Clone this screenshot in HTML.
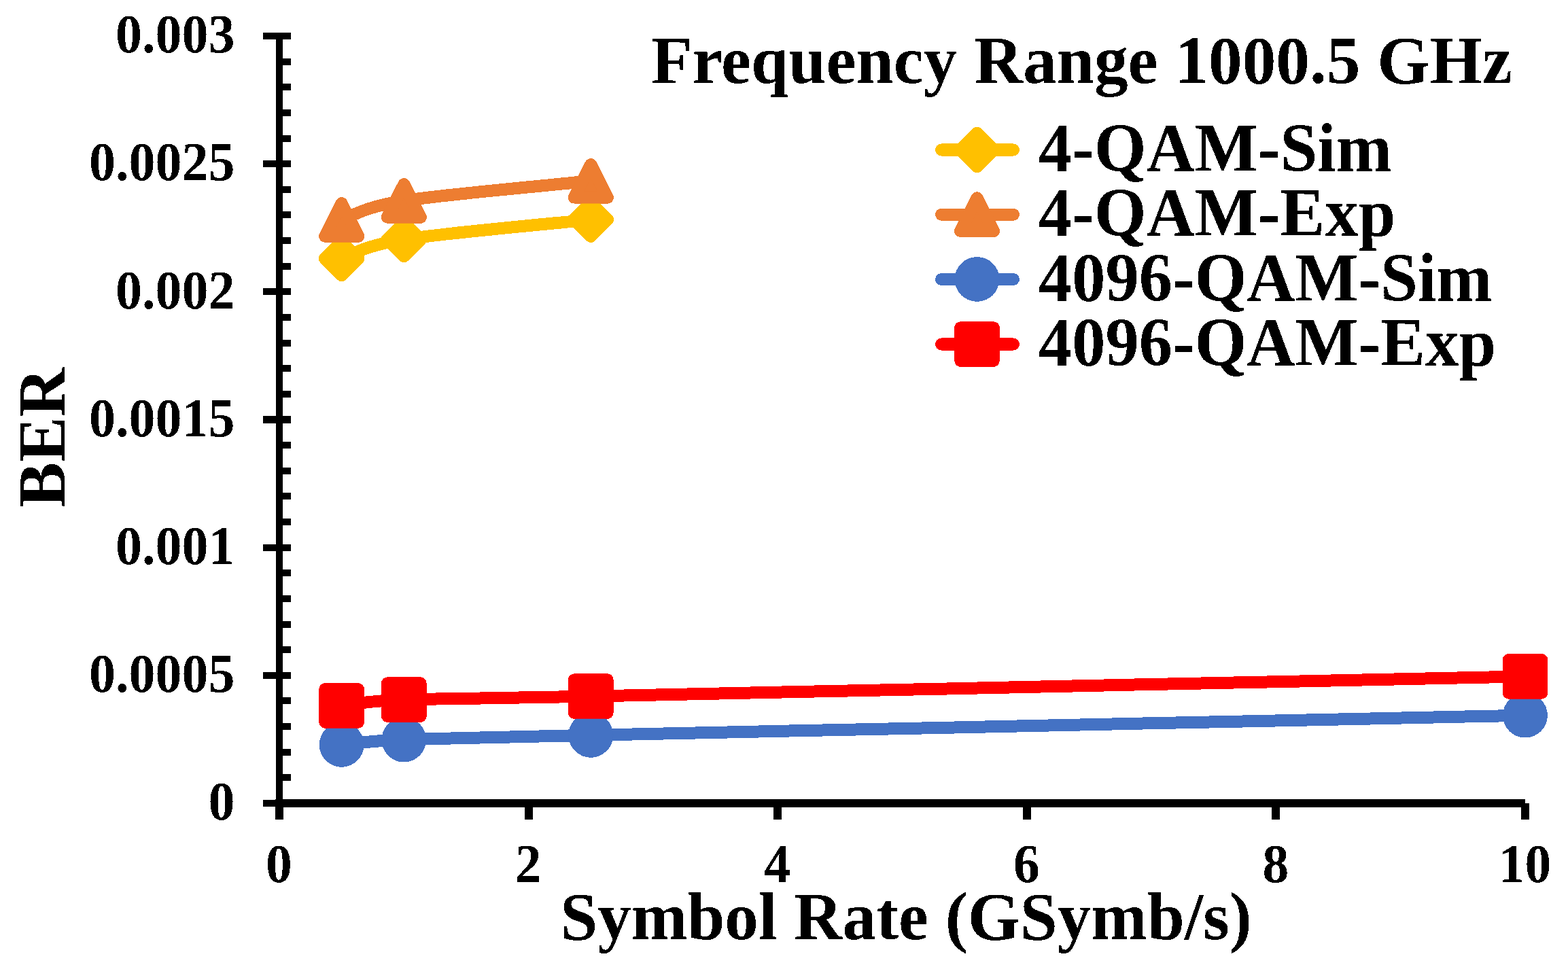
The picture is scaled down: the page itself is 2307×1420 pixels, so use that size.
<!DOCTYPE html><html><head><meta charset="utf-8"><title>BER vs Symbol Rate</title>
<style>html,body{margin:0;padding:0;background:#fff;}svg{display:block;}text{font-family:'Liberation Serif','Times New Roman',serif;font-weight:bold;fill:#000;}</style></head><body>
<svg width="2307" height="1420" viewBox="0 0 2307 1420">
<rect width="2307" height="1420" fill="#fff"/>
<defs><filter id="bin" x="0" y="0" width="2307" height="1420" filterUnits="userSpaceOnUse" color-interpolation-filters="sRGB"><feComponentTransfer><feFuncA type="discrete" tableValues="0 1"/></feComponentTransfer></filter></defs>
<g filter="url(#bin)">
<rect x="406" y="48" width="10" height="1140" fill="#000"/>
<rect x="387" y="1177.00" width="41" height="10" fill="#000"/>
<rect x="387" y="988.83" width="41" height="10" fill="#000"/>
<rect x="387" y="800.67" width="41" height="10" fill="#000"/>
<rect x="387" y="612.50" width="41" height="10" fill="#000"/>
<rect x="387" y="424.33" width="41" height="10" fill="#000"/>
<rect x="387" y="236.17" width="41" height="10" fill="#000"/>
<rect x="387" y="48.00" width="41" height="10" fill="#000"/>
<rect x="411" y="1139.37" width="17" height="10" fill="#000"/>
<rect x="411" y="1101.73" width="17" height="10" fill="#000"/>
<rect x="411" y="1064.10" width="17" height="10" fill="#000"/>
<rect x="411" y="1026.47" width="17" height="10" fill="#000"/>
<rect x="411" y="951.20" width="17" height="10" fill="#000"/>
<rect x="411" y="913.57" width="17" height="10" fill="#000"/>
<rect x="411" y="875.93" width="17" height="10" fill="#000"/>
<rect x="411" y="838.30" width="17" height="10" fill="#000"/>
<rect x="411" y="763.03" width="17" height="10" fill="#000"/>
<rect x="411" y="725.40" width="17" height="10" fill="#000"/>
<rect x="411" y="687.77" width="17" height="10" fill="#000"/>
<rect x="411" y="650.13" width="17" height="10" fill="#000"/>
<rect x="411" y="574.87" width="17" height="10" fill="#000"/>
<rect x="411" y="537.23" width="17" height="10" fill="#000"/>
<rect x="411" y="499.60" width="17" height="10" fill="#000"/>
<rect x="411" y="461.97" width="17" height="10" fill="#000"/>
<rect x="411" y="386.70" width="17" height="10" fill="#000"/>
<rect x="411" y="349.07" width="17" height="10" fill="#000"/>
<rect x="411" y="311.43" width="17" height="10" fill="#000"/>
<rect x="411" y="273.80" width="17" height="10" fill="#000"/>
<rect x="411" y="198.53" width="17" height="10" fill="#000"/>
<rect x="411" y="160.90" width="17" height="10" fill="#000"/>
<rect x="411" y="123.27" width="17" height="10" fill="#000"/>
<rect x="411" y="85.63" width="17" height="10" fill="#000"/>
<rect x="405" y="1176" width="1839.00" height="12" fill="#000"/>
<rect x="405.00" y="1182" width="12" height="24" fill="#000"/>
<rect x="771.60" y="1182" width="12" height="24" fill="#000"/>
<rect x="1138.20" y="1182" width="12" height="24" fill="#000"/>
<rect x="1504.80" y="1182" width="12" height="24" fill="#000"/>
<rect x="1871.40" y="1182" width="12" height="24" fill="#000"/>
<rect x="2238.00" y="1182" width="12" height="24" fill="#000"/>
<text transform="translate(345.5,1206.30) scale(1,1.04)" font-size="78" text-anchor="end">0</text>
<text transform="translate(345.5,1018.13) scale(1,1.04)" font-size="78" text-anchor="end">0.0005</text>
<text transform="translate(345.5,829.97) scale(1,1.04)" font-size="78" text-anchor="end">0.001</text>
<text transform="translate(345.5,641.80) scale(1,1.04)" font-size="78" text-anchor="end">0.0015</text>
<text transform="translate(345.5,453.63) scale(1,1.04)" font-size="78" text-anchor="end">0.002</text>
<text transform="translate(345.5,265.47) scale(1,1.04)" font-size="78" text-anchor="end">0.0025</text>
<text transform="translate(345.5,77.30) scale(1,1.04)" font-size="78" text-anchor="end">0.003</text>
<text transform="translate(410.50,1297.6) scale(1,1.035)" font-size="77.5" text-anchor="middle">0</text>
<text transform="translate(777.10,1297.6) scale(1,1.035)" font-size="77.5" text-anchor="middle">2</text>
<text transform="translate(1143.70,1297.6) scale(1,1.035)" font-size="77.5" text-anchor="middle">4</text>
<text transform="translate(1510.30,1297.6) scale(1,1.035)" font-size="77.5" text-anchor="middle">6</text>
<text transform="translate(1876.90,1297.6) scale(1,1.035)" font-size="77.5" text-anchor="middle">8</text>
<text transform="translate(2243.50,1297.6) scale(1,1.035)" font-size="77.5" text-anchor="middle">10</text>
<text x="1333" y="1382" font-size="99" text-anchor="middle">Symbol Rate (GSymb/s)</text>
<text transform="translate(95,644) rotate(-90)" font-size="100" text-anchor="middle">BER</text>
<text x="958" y="122" font-size="99.3">Frequency Range 1000.5 GHz</text>
<path d="M502.65,380.30 C517.92,375.63 533.20,361.83 594.30,352.30 C655.40,342.77 823.42,327.97 869.25,323.10" fill="none" stroke="#FFC000" stroke-width="18" stroke-linecap="round" stroke-linejoin="round"/>
<polygon points="502.65,355.50 527.45,380.30 502.65,405.10 477.85,380.30" fill="#FFC000" stroke="#FFC000" stroke-width="18" stroke-linejoin="round"/>
<polygon points="594.30,327.50 619.10,352.30 594.30,377.10 569.50,352.30" fill="#FFC000" stroke="#FFC000" stroke-width="18" stroke-linejoin="round"/>
<polygon points="869.25,298.30 894.05,323.10 869.25,347.90 844.45,323.10" fill="#FFC000" stroke="#FFC000" stroke-width="18" stroke-linejoin="round"/>
<path d="M502.65,323.40 C517.92,318.73 533.20,304.92 594.30,295.40 C655.40,285.88 823.42,271.15 869.25,266.30" fill="none" stroke="#ED7D31" stroke-width="18" stroke-linecap="round" stroke-linejoin="round"/>
<polygon points="502.65,299.10 527.25,347.70 478.05,347.70" fill="#ED7D31" stroke="#ED7D31" stroke-width="18" stroke-linejoin="round"/>
<polygon points="594.30,271.10 618.90,319.70 569.70,319.70" fill="#ED7D31" stroke="#ED7D31" stroke-width="18" stroke-linejoin="round"/>
<polygon points="869.25,242.00 893.85,290.60 844.65,290.60" fill="#ED7D31" stroke="#ED7D31" stroke-width="18" stroke-linejoin="round"/>
<path d="M502.65,1095.80 C517.92,1094.58 533.20,1090.83 594.30,1088.50 C655.40,1086.17 594.30,1087.77 869.25,1081.80 C1144.20,1075.83 2014.88,1057.55 2244.00,1052.70" fill="none" stroke="#4472C4" stroke-width="18" stroke-linecap="round" stroke-linejoin="round"/>
<circle cx="502.65" cy="1095.80" r="32.90" fill="#4472C4"/>
<circle cx="594.30" cy="1088.50" r="32.90" fill="#4472C4"/>
<circle cx="869.25" cy="1081.80" r="32.90" fill="#4472C4"/>
<circle cx="2244.00" cy="1052.70" r="32.90" fill="#4472C4"/>
<path d="M502.65,1038.40 C517.92,1036.93 533.20,1031.92 594.30,1029.60 C655.40,1027.28 594.30,1030.20 869.25,1024.50 C1144.20,1018.80 2014.88,1000.25 2244.00,995.40" fill="none" stroke="#FF0000" stroke-width="18" stroke-linecap="round" stroke-linejoin="round"/>
<rect x="478.35" y="1014.10" width="48.60" height="48.60" fill="#FF0000" stroke="#FF0000" stroke-width="18" stroke-linejoin="round"/>
<rect x="570.00" y="1005.30" width="48.60" height="48.60" fill="#FF0000" stroke="#FF0000" stroke-width="18" stroke-linejoin="round"/>
<rect x="844.95" y="1000.20" width="48.60" height="48.60" fill="#FF0000" stroke="#FF0000" stroke-width="18" stroke-linejoin="round"/>
<rect x="2219.70" y="971.10" width="48.60" height="48.60" fill="#FF0000" stroke="#FF0000" stroke-width="18" stroke-linejoin="round"/>
<line x1="1385" y1="220.50" x2="1491" y2="220.50" stroke="#FFC000" stroke-width="18" stroke-linecap="round"/>
<polygon points="1437.50,195.70 1462.30,220.50 1437.50,245.30 1412.70,220.50" fill="#FFC000" stroke="#FFC000" stroke-width="18" stroke-linejoin="round"/>
<text transform="translate(1528,252.10) scale(1,1.025)" font-size="98.5">4-QAM-Sim</text>
<line x1="1385" y1="315.70" x2="1491" y2="315.70" stroke="#ED7D31" stroke-width="18" stroke-linecap="round"/>
<polygon points="1437.50,291.40 1462.10,340.00 1412.90,340.00" fill="#ED7D31" stroke="#ED7D31" stroke-width="18" stroke-linejoin="round"/>
<text transform="translate(1528,347.30) scale(1,1.025)" font-size="98.5">4-QAM-Exp</text>
<line x1="1385" y1="410.90" x2="1491" y2="410.90" stroke="#4472C4" stroke-width="18" stroke-linecap="round"/>
<circle cx="1437.50" cy="410.90" r="32.90" fill="#4472C4"/>
<text transform="translate(1528,442.50) scale(1,1.025)" font-size="98.5">4096-QAM-Sim</text>
<line x1="1385" y1="506.50" x2="1491" y2="506.50" stroke="#FF0000" stroke-width="18" stroke-linecap="round"/>
<rect x="1413.20" y="482.20" width="48.60" height="48.60" fill="#FF0000" stroke="#FF0000" stroke-width="18" stroke-linejoin="round"/>
<text transform="translate(1528,538.10) scale(1,1.025)" font-size="98.5">4096-QAM-Exp</text>
</g></svg></body></html>
